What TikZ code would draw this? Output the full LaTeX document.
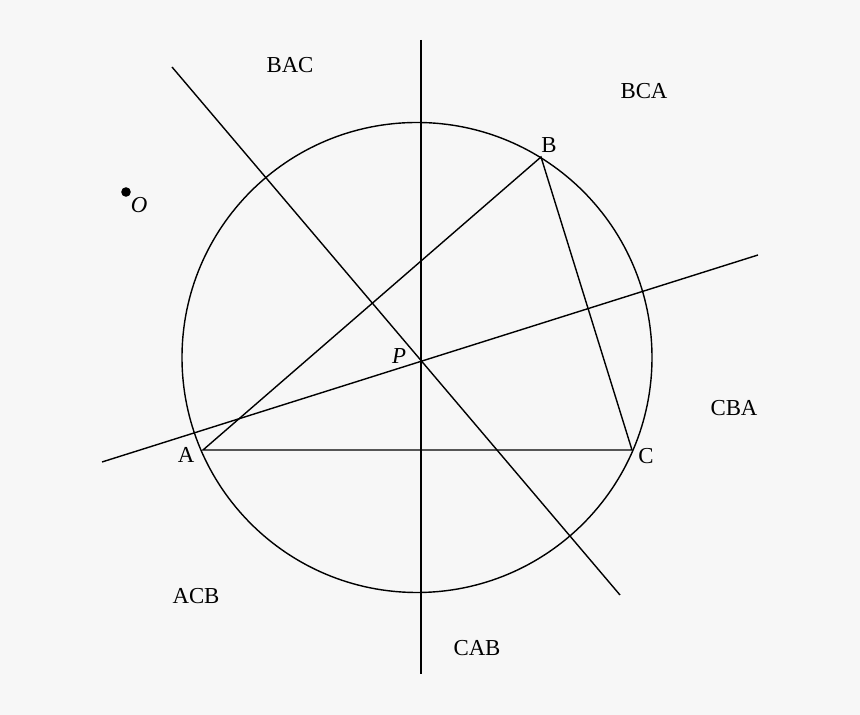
\documentclass[tikz,border=0pt]{standalone}
\usepackage{fontspec}
\setmainfont{Liberation Serif}
\definecolor{paper}{HTML}{F7F7F7}
\begin{document}
\begin{tikzpicture}[x=0.02cm,y=-0.02cm,font=\fontsize{13}{15}\selectfont,line width=0.8pt]
        \fill[paper] (0,0) rectangle (860,715);
        \useasboundingbox (0,0) rectangle (860,715);
        %% circle and triangle
        \draw (417,357.5) circle (235);
        \coordinate (A) at (203,450);
        \coordinate (B) at (541,157);
        \coordinate (C) at (632,450);
        \draw (A) -- (B) -- (C) -- cycle;
        %% lines through P
        \coordinate (P) at (421,361);
        \coordinate (v1) at (421,40);
        \coordinate (v2) at (421,674);
        \coordinate (d1) at (172,67);
        \coordinate (d2) at (620,595);
        \coordinate (s1) at (102,462);
        \coordinate (s2) at (758,255);
        \draw (v1) -- (v2);
        \draw (d1) -- (d2);
        \draw (s1) -- (s2);
        %% A, B, C, P, O
        \node (la) at (186,455) {A};
        \node (lb) at (549,145) {B};
        \node (lc) at (646,456) {C};
        \node (lp) at (399,356) {\textit{P}};
        \draw[fill] (126,192) circle (2.3pt) coordinate (O);
        \node (lo) at (139,205) {\textit{O}};
        %% regions
        \node (bac) at (290,65) {BAC};
        \node (bca) at (644,91) {BCA};
        \node (cba) at (734,408) {CBA};
        \node (acb) at (196,596) {ACB};
        \node (cab) at (477,648) {CAB};
    \end{tikzpicture}
\end{document}
